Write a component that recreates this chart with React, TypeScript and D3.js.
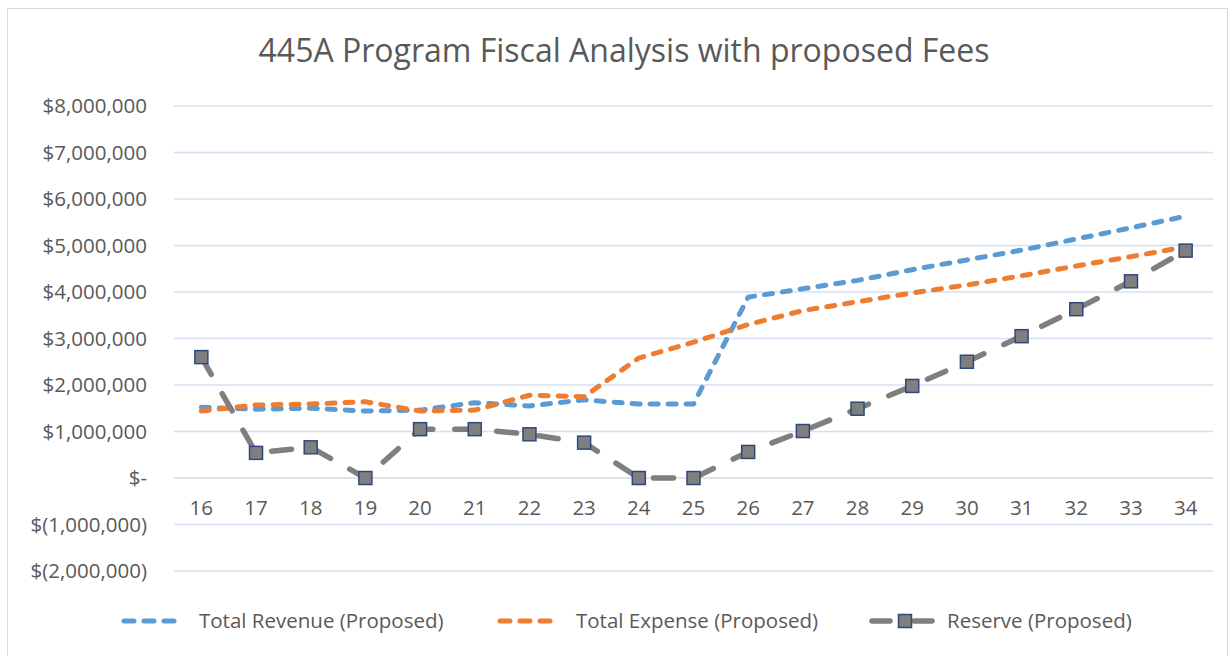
import React from "react";
import * as d3 from "d3";

const categories = ["16","17","18","19","20","21","22","23","24","25","26","27","28","29","30","31","32","33","34"];
const revenue = [1.52,1.48,1.5,1.44,1.46,1.62,1.55,1.68,1.59,1.59,3.89,4.07,4.25,4.48,4.69,4.9,5.14,5.38,5.63].map(v=>v*1e6);
const expense = [1.44,1.57,1.59,1.64,1.44,1.46,1.78,1.75,2.58,2.92,3.3,3.6,3.79,3.98,4.15,4.35,4.56,4.76,4.97].map(v=>v*1e6);
const reserve = [2.6,0.54,0.66,0.0,1.05,1.05,0.94,0.76,0.0,0.0,0.56,1.01,1.49,1.98,2.5,3.05,3.63,4.23,4.89].map(v=>v*1e6);
const yTicks = [-2e6,-1e6,0,1e6,2e6,3e6,4e6,5e6,6e6,7e6,8e6];
const title = "445A Program Fiscal Analysis with proposed Fees";
const seriesNames = ["Total Revenue (Proposed)","Total Expense (Proposed)","Reserve (Proposed)"];

const FONT = "'Open Sans', sans-serif";
const TXT = "#595959";

function fmt(v: number) {
  if (v === 0) return "$-";
  const s = d3.format(",")(Math.abs(v));
  return v < 0 ? `$(${s})` : `$${s}`;
}

export default function App() {
  const W = 1230, H = 656;
  const left = 174, right = 1213;
  const x = d3.scaleBand().domain(categories).range([left, right]);
  const y = d3.scaleLinear().domain([-2e6, 8e6]).range([571, 106]);
  const cx = (c: string) => (x(c) as number) + x.bandwidth() / 2;
  const line = d3.line<number>().x((_, i) => cx(categories[i])).y(d => y(d));
  const ms = 13;
  const fs = 20.5;
  return (
    <svg width={W} height={H} style={{ position: "absolute", left: 0, top: 0, background: "#fff" }} fontFamily={FONT}>
      <rect x={7.5} y={8.5} width={1220} height={660} fill="#fff" stroke="#d9d9d9" strokeWidth={1} />
      <text x={624} y={62} textAnchor="middle" fontSize={32} fill={TXT}>{title}</text>
      {yTicks.map(t => (
        <g key={t}>
          <line x1={left} x2={right} y1={y(t)} y2={y(t)} stroke={t === 0 ? "#d9d9d9" : "#d6e0f2"} strokeWidth={1.5} />
          <text x={147} y={y(t)} dy="0.35em" textAnchor="end" fontSize={fs} fill={TXT}>{fmt(t)}</text>
        </g>
      ))}
      {categories.map(c => (
        <text key={c} x={cx(c)} y={508} dy="0.35em" textAnchor="middle" fontSize={fs} fill={TXT}>{c}</text>
      ))}
      <path d={line(revenue) || ""} fill="none" stroke="#5B9BD5" strokeWidth={5} strokeDasharray="8,10" strokeLinecap="round" strokeLinejoin="round" />
      <path d={line(expense) || ""} fill="none" stroke="#ED7D31" strokeWidth={5} strokeDasharray="8,10" strokeLinecap="round" strokeLinejoin="round" />
      <path d={line(reserve) || ""} fill="none" stroke="#7F7F7F" strokeWidth={5.5} strokeDasharray="20,22" strokeLinecap="round" strokeLinejoin="round" />
      {reserve.map((v, i) => (
        <rect key={i} x={cx(categories[i]) - ms / 2} y={y(v) - ms / 2} width={ms} height={ms} fill="#7F7F7F" stroke="#2F4A7A" strokeWidth={1.5} />
      ))}
      <g>
        <line x1={124} x2={184} y1={621} y2={621} stroke="#5B9BD5" strokeWidth={5} strokeDasharray="10,10" strokeLinecap="round" />
        <text x={199} y={621} dy="0.35em" fontSize={fs} fill={TXT}>{seriesNames[0]}</text>
        <line x1={500} x2={560} y1={621} y2={621} stroke="#ED7D31" strokeWidth={5} strokeDasharray="10,10" strokeLinecap="round" />
        <text x={576} y={621} dy="0.35em" fontSize={fs} fill={TXT}>{seriesNames[1]}</text>
        <line x1={872} x2={932} y1={621} y2={621} stroke="#7F7F7F" strokeWidth={5.5} strokeDasharray="18,24" strokeLinecap="round" />
        <rect x={905 - ms / 2} y={621 - ms / 2} width={ms} height={ms} fill="#7F7F7F" stroke="#2F4A7A" strokeWidth={1.5} />
        <text x={947} y={621} dy="0.35em" fontSize={fs} fill={TXT}>{seriesNames[2]}</text>
      </g>
    </svg>
  );
}
